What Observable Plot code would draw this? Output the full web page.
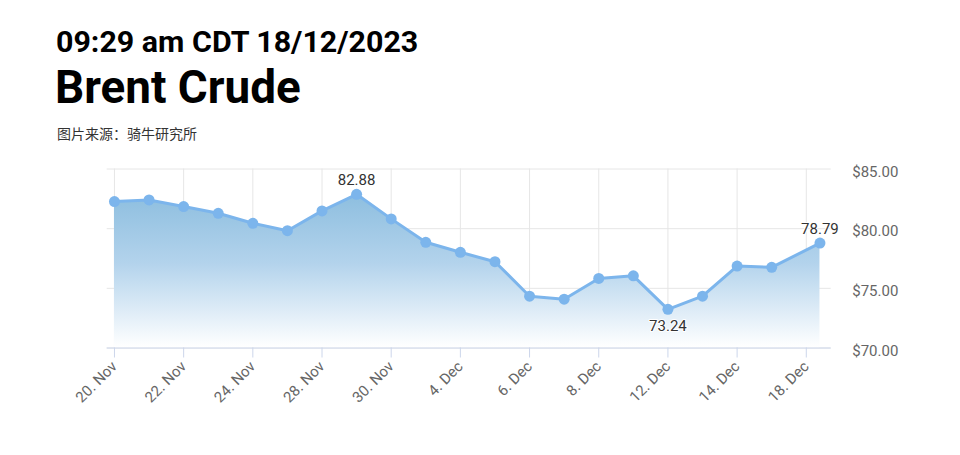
<!DOCTYPE html>
<html>
<head>
<meta charset="utf-8">
<script src="https://cdn.jsdelivr.net/npm/d3@7"></script>
<script src="https://cdn.jsdelivr.net/npm/@observablehq/plot@0.6"></script>
<style>
  html, body { margin: 0; padding: 0; background: #fff; }
  #wrap { position: relative; width: 960px; height: 455px; overflow: hidden; font-family: Roboto, "Noto Sans", sans-serif; }
  .t1 { position: absolute; left: 56px; top: 27px; font-size: 30.4px; line-height: 1; font-weight: 700; color: #000; white-space: nowrap; }
  .t2 { position: absolute; left: 55px; top: 65px; font-size: 45.8px; line-height: 1; font-weight: 700; color: #000; white-space: nowrap; }
  .t3 { position: absolute; left: 57px; top: 126px; font-size: 14px; line-height: 1; color: #333; font-family: "Noto Sans CJK SC", sans-serif; white-space: nowrap; }
  #chart { position: absolute; left: 0; top: 150px; }
</style>
</head>
<body>
<div id="wrap">
  <div class="t1">09:29 am CDT 18/12/2023</div>
  <div class="t2">Brent Crude</div>
  <div class="t3">图片来源：骑牛研究所</div>
  <div id="chart"></div>
</div>
<script>
const timestamps = [
  "2023-11-20T00:00", "2023-11-21T00:00", "2023-11-22T00:00", "2023-11-23T00:00", "2023-11-24T00:00",
  "2023-11-27T00:00", "2023-11-28T00:00", "2023-11-29T00:00", "2023-11-30T00:00", "2023-12-01T00:00",
  "2023-12-04T00:00", "2023-12-05T00:00", "2023-12-06T00:00", "2023-12-07T00:00", "2023-12-08T00:00",
  "2023-12-11T00:00", "2023-12-12T00:00", "2023-12-13T00:00", "2023-12-14T00:00", "2023-12-15T00:00",
  "2023-12-18T09:29"
];
const prices = [82.27, 82.41, 81.85, 81.29, 80.45, 79.83, 81.49, 82.88, 80.82, 78.86,
                78.02, 77.23, 74.34, 74.09, 75.83, 76.05, 73.24, 74.34, 76.87, 76.76, 78.79];
const yTicks = [70, 75, 80, 85];
const labeledPoints = [7, 16, 20]; // max, min, last
const labelPlacement = ["above", "below", "above"];

const months = ["Jan","Feb","Mar","Apr","May","Jun","Jul","Aug","Sep","Oct","Nov","Dec"];
const data = timestamps.map((ts, i) => {
  const [d, t] = ts.split("T");
  const [hh, mm] = t.split(":").map(Number);
  const [yy, mo, dd] = d.split("-").map(Number);
  return { x: i + (hh + mm / 60) / 24, v: prices[i], label: `${dd}. ${months[mo - 1]}` };
});
const xTicks = d3.range(0, timestamps.length, 2);

const labelData = labeledPoints.map((i, k) => ({ ...data[i], pos: labelPlacement[k], text: prices[i].toFixed(2) }));

const chart = Plot.plot({
  width: 960,
  height: 280,
  marginTop: 18.5,
  marginBottom: 82.5,
  marginLeft: 106.7,
  marginRight: 129.3,
  style: { fontFamily: "Roboto, 'Noto Sans', sans-serif", fontSize: "15px", color: "#666", background: "transparent" },
  x: { type: "linear", domain: [-0.21, 20.72] },
  y: { domain: [70, 85] },
  marks: [
    Plot.gridY(yTicks, { stroke: "#e6e6e6", strokeOpacity: 1 }),
    Plot.gridX(xTicks, { stroke: "#e6e6e6", strokeOpacity: 1 }),
    Plot.areaY(data, { x: "x", y1: 70, y2: "v", fill: "url(#areaGrad)", curve: "linear" }),
    Plot.line(data, { x: "x", y: "v", stroke: "#7cb5ec", strokeWidth: 3 }),
    Plot.dot(data, { x: "x", y: "v", r: 5.5, fill: "#7cb5ec", stroke: "none" }),
    Plot.ruleY([70], { stroke: "#ccd6eb", strokeWidth: 1 }),
    Plot.axisX(xTicks, {
      tickFormat: i => data[i].label,
      tickRotate: -45,
      tickSize: 10,
      tickPadding: 6,
      stroke: "#ccd6eb",
      fill: "#666",
      fontSize: 15,
      label: null
    }),
    Plot.axisY(yTicks, {
      anchor: "right",
      tickSize: 0,
      tickPadding: 21,
      tickFormat: d => "$" + d.toFixed(2),
      fill: "#666",
      fontSize: 15,
      dy: 3,
      label: null
    }),
    Plot.text(labelData.filter(d => d.pos === "above"), { x: "x", y: "v", text: "text", dy: -14, fill: "#333", fontSize: 15, stroke: "white", strokeWidth: 2, paintOrder: "stroke" }),
    Plot.text(labelData.filter(d => d.pos === "below"), { x: "x", y: "v", text: "text", dy: 17, fill: "#333", fontSize: 15, stroke: "white", strokeWidth: 2, paintOrder: "stroke" })
  ]
});

const svg = d3.select(chart);
const grad = svg.insert("defs", ":first-child").append("linearGradient")
  .attr("id", "areaGrad").attr("x1", 0).attr("y1", 0).attr("x2", 0).attr("y2", 1);
grad.append("stop").attr("offset", "0%").attr("stop-color", "#8dbedf");
grad.append("stop").attr("offset", "45%").attr("stop-color", "#b3d3ec");
grad.append("stop").attr("offset", "100%").attr("stop-color", "#ffffff");

document.getElementById("chart").appendChild(chart);
</script>
</body>
</html>
